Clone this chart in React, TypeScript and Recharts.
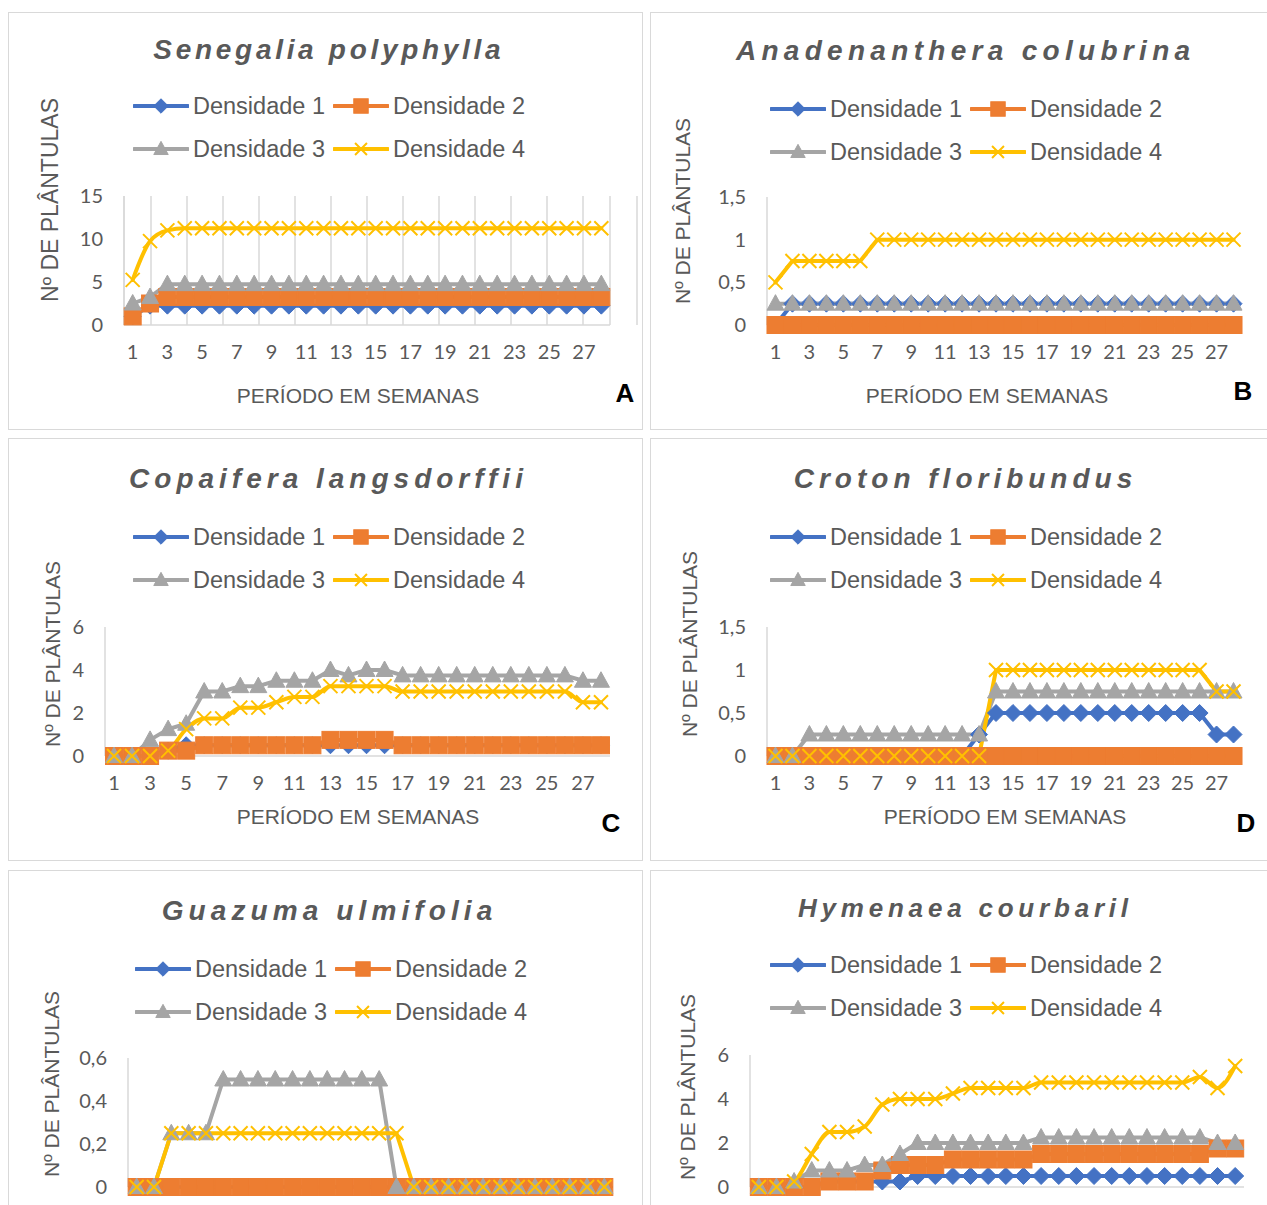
import React from "react";
import { LineChart, Line, XAxis, YAxis, CartesianGrid } from "recharts";

// weeks (categories) and tick labels
const weeks = [1, 2, 3, 4, 5, 6, 7, 8, 9, 10, 11, 12, 13, 14, 15, 16, 17, 18, 19, 20, 21, 22, 23, 24, 25, 26, 27, 28];
const weekTicks = [1, 3, 5, 7, 9, 11, 13, 15, 17, 19, 21, 23, 25, 27];
const weekBounds = [0.5, 1.5, 2.5, 3.5, 4.5, 5.5, 6.5, 7.5, 8.5, 9.5, 10.5, 11.5, 12.5, 13.5, 14.5, 15.5, 16.5, 17.5, 18.5, 19.5, 20.5, 21.5, 22.5, 23.5, 24.5, 25.5, 26.5, 27.5, 28.5];

const ticks15 = [0, 5, 10, 15];
const ticks1_5 = [0, 0.5, 1, 1.5];
const ticks6 = [0, 2, 4, 6];
const ticks0_6 = [0, 0.2, 0.4, 0.6];

const seriesNames = ["Densidade 1", "Densidade 2", "Densidade 3", "Densidade 4"];
const colors = ["#4472C4", "#ED7D31", "#A5A5A5", "#FFC000"];

// A - Senegalia polyphylla
const senegaliaD1 = [1, 2.25, 2.25, 2.25, 2.25, 2.25, 2.25,
  2.25, 2.25, 2.25, 2.25, 2.25, 2.25, 2.25,
  2.25, 2.25, 2.25, 2.25, 2.25, 2.25, 2.25,
  2.25, 2.25, 2.25, 2.25, 2.25, 2.25, 2.25];
const senegaliaD2 = [1, 2.5, 3.25, 3.25, 3.25, 3.25, 3.25,
  3.25, 3.25, 3.25, 3.25, 3.25, 3.25, 3.25,
  3.25, 3.25, 3.25, 3.25, 3.25, 3.25, 3.25,
  3.25, 3.25, 3.25, 3.25, 3.25, 3.25, 3.25];
const senegaliaD3 = [2.5, 3.25, 4.75, 4.75, 4.75, 4.75, 4.75,
  4.75, 4.75, 4.75, 4.75, 4.75, 4.75, 4.75,
  4.75, 4.75, 4.75, 4.75, 4.75, 4.75, 4.75,
  4.75, 4.75, 4.75, 4.75, 4.75, 4.75, 4.75];
const senegaliaD4 = [5.25, 9.75, 11, 11.25, 11.25, 11.25, 11.25,
  11.25, 11.25, 11.25, 11.25, 11.25, 11.25, 11.25,
  11.25, 11.25, 11.25, 11.25, 11.25, 11.25, 11.25,
  11.25, 11.25, 11.25, 11.25, 11.25, 11.25, 11.25];

// B - Anadenanthera colubrina
const anadenantheraD1 = [0, 0.25, 0.25, 0.25, 0.25, 0.25, 0.25,
  0.25, 0.25, 0.25, 0.25, 0.25, 0.25, 0.25,
  0.25, 0.25, 0.25, 0.25, 0.25, 0.25, 0.25,
  0.25, 0.25, 0.25, 0.25, 0.25, 0.25, 0.25];
const anadenantheraD2 = [0, 0, 0, 0, 0, 0, 0,
  0, 0, 0, 0, 0, 0, 0,
  0, 0, 0, 0, 0, 0, 0,
  0, 0, 0, 0, 0, 0, 0];
const anadenantheraD3 = [0.25, 0.25, 0.25, 0.25, 0.25, 0.25, 0.25,
  0.25, 0.25, 0.25, 0.25, 0.25, 0.25, 0.25,
  0.25, 0.25, 0.25, 0.25, 0.25, 0.25, 0.25,
  0.25, 0.25, 0.25, 0.25, 0.25, 0.25, 0.25];
const anadenantheraD4 = [0.5, 0.75, 0.75, 0.75, 0.75, 0.75, 1,
  1, 1, 1, 1, 1, 1, 1,
  1, 1, 1, 1, 1, 1, 1,
  1, 1, 1, 1, 1, 1, 1];

// C - Copaifera langsdorffii
const copaiferaD1 = [0, 0, 0, 0.25, 0.5, 0.5, 0.5,
  0.5, 0.5, 0.5, 0.5, 0.5, 0.5, 0.5,
  0.5, 0.5, 0.5, 0.5, 0.5, 0.5, 0.5,
  0.5, 0.5, 0.5, 0.5, 0.5, 0.5, 0.5];
const copaiferaD2 = [0, 0, 0, 0.25, 0.25, 0.5, 0.5,
  0.5, 0.5, 0.5, 0.5, 0.5, 0.75, 0.75,
  0.75, 0.75, 0.5, 0.5, 0.5, 0.5, 0.5,
  0.5, 0.5, 0.5, 0.5, 0.5, 0.5, 0.5];
const copaiferaD3 = [0, 0, 0.75, 1.25, 1.5, 3, 3,
  3.25, 3.25, 3.5, 3.5, 3.5, 4, 3.75,
  4, 4, 3.75, 3.75, 3.75, 3.75, 3.75,
  3.75, 3.75, 3.75, 3.75, 3.75, 3.5, 3.5];
const copaiferaD4 = [0, 0, 0, 0.25, 1.25, 1.75, 1.75,
  2.25, 2.25, 2.5, 2.75, 2.75, 3.25, 3.25,
  3.25, 3.25, 3, 3, 3, 3, 3,
  3, 3, 3, 3, 3, 2.5, 2.5];

// D - Croton floribundus
const crotonD1 = [0, 0, 0, 0, 0, 0, 0,
  0, 0, 0, 0, 0, 0.25, 0.5,
  0.5, 0.5, 0.5, 0.5, 0.5, 0.5, 0.5,
  0.5, 0.5, 0.5, 0.5, 0.5, 0.25, 0.25];
const crotonD2 = [0, 0, 0, 0, 0, 0, 0,
  0, 0, 0, 0, 0, 0, 0,
  0, 0, 0, 0, 0, 0, 0,
  0, 0, 0, 0, 0, 0, 0];
const crotonD3 = [0, 0, 0.25, 0.25, 0.25, 0.25, 0.25,
  0.25, 0.25, 0.25, 0.25, 0.25, 0.25, 0.75,
  0.75, 0.75, 0.75, 0.75, 0.75, 0.75, 0.75,
  0.75, 0.75, 0.75, 0.75, 0.75, 0.75, 0.75];
const crotonD4 = [0, 0, 0, 0, 0, 0, 0,
  0, 0, 0, 0, 0, 0, 1,
  1, 1, 1, 1, 1, 1, 1,
  1, 1, 1, 1, 1, 0.75, 0.75];

// E - Guazuma ulmifolia
const guazumaD1 = [0, 0, 0, 0, 0, 0, 0,
  0, 0, 0, 0, 0, 0, 0,
  0, 0, 0, 0, 0, 0, 0,
  0, 0, 0, 0, 0, 0, 0];
const guazumaD2 = [0, 0, 0, 0, 0, 0, 0,
  0, 0, 0, 0, 0, 0, 0,
  0, 0, 0, 0, 0, 0, 0,
  0, 0, 0, 0, 0, 0, 0];
const guazumaD3 = [0, 0, 0.25, 0.25, 0.25, 0.5, 0.5,
  0.5, 0.5, 0.5, 0.5, 0.5, 0.5, 0.5,
  0.5, 0, 0, 0, 0, 0, 0,
  0, 0, 0, 0, 0, 0, 0];
const guazumaD4 = [0, 0, 0.25, 0.25, 0.25, 0.25, 0.25,
  0.25, 0.25, 0.25, 0.25, 0.25, 0.25, 0.25,
  0.25, 0.25, 0, 0, 0, 0, 0,
  0, 0, 0, 0, 0, 0, 0];

// F - Hymenaea courbaril
const hymenaeaD1 = [0, 0, 0, 0, 0.25, 0.25, 0.25,
  0.25, 0.25, 0.5, 0.5, 0.5, 0.5, 0.5,
  0.5, 0.5, 0.5, 0.5, 0.5, 0.5, 0.5,
  0.5, 0.5, 0.5, 0.5, 0.5, 0.5, 0.5];
const hymenaeaD2 = [0, 0, 0, 0, 0.25, 0.25, 0.25,
  0.75, 1, 1, 1, 1.25, 1.25, 1.25,
  1.25, 1.25, 1.5, 1.5, 1.5, 1.5, 1.5,
  1.5, 1.5, 1.5, 1.5, 1.5, 1.75, 1.75];
const hymenaeaD3 = [0, 0, 0.25, 0.75, 0.75, 0.75, 1,
  1, 1.5, 2, 2, 2, 2, 2,
  2, 2, 2.25, 2.25, 2.25, 2.25, 2.25,
  2.25, 2.25, 2.25, 2.25, 2.25, 2, 2];
const hymenaeaD4 = [0, 0, 0.25, 1.5, 2.5, 2.5, 2.75,
  3.75, 4, 4, 4, 4.25, 4.5, 4.5,
  4.5, 4.5, 4.75, 4.75, 4.75, 4.75, 4.75,
  4.75, 4.75, 4.75, 4.75, 5, 4.5, 5.5];

const TEXT = "#595959";
const SANS = "'Liberation Sans', Arial, sans-serif";
const TICK_FONT = "Lato, 'Open Sans', sans-serif";

// bottom row (E, F) is cut by the page edge: its x ticks, axis title and letter fall outside
const panels = [
  {
    id: "A", title: "Senegalia polyphylla", series: [senegaliaD1, senegaliaD2, senegaliaD3, senegaliaD4],
    yMax: 15, yTicks: ticks15, grid: true, smooth: true, showBottom: true,
    left: 8, top: 12, width: 635, height: 418, plot: { l: 116, r: 602, t: 184, b: 313 },
    titleAt: [319, 38], titleSize: 28, titleSpacing: 3.7, legendAt: [125, 94],
    yLabelAt: [42, 188], yLabelSize: 23, xLabelAt: [350, 384], letterAt: [617, 381],
  },
  {
    id: "B", title: "Anadenanthera colubrina", series: [anadenantheraD1, anadenantheraD2, anadenantheraD3, anadenantheraD4],
    yMax: 1.5, yTicks: ticks1_5, grid: false, smooth: false, showBottom: true,
    left: 650, top: 12, width: 630, height: 418, plot: { l: 117, r: 592, t: 185, b: 313 },
    titleAt: [313, 39], titleSize: 28, titleSpacing: 5.3, legendAt: [120, 97],
    yLabelAt: [33, 199], yLabelSize: 21, xLabelAt: [337, 384], letterAt: [593, 379],
  },
  {
    id: "C", title: "Copaifera langsdorffii", series: [copaiferaD1, copaiferaD2, copaiferaD3, copaiferaD4],
    yMax: 6, yTicks: ticks6, grid: false, smooth: true, showBottom: true,
    left: 8, top: 438, width: 635, height: 423, plot: { l: 97, r: 602, t: 189, b: 318 },
    titleAt: [318, 41], titleSize: 28, titleSpacing: 5.0, legendAt: [125, 99],
    yLabelAt: [45, 216], yLabelSize: 21, xLabelAt: [350, 379], letterAt: [603, 385],
  },
  {
    id: "D", title: "Croton floribundus", series: [crotonD1, crotonD2, crotonD3, crotonD4],
    yMax: 1.5, yTicks: ticks1_5, grid: false, smooth: false, showBottom: true,
    left: 650, top: 438, width: 630, height: 423, plot: { l: 117, r: 592, t: 189, b: 318 },
    titleAt: [313, 41], titleSize: 28, titleSpacing: 5.0, legendAt: [120, 99],
    yLabelAt: [40, 206], yLabelSize: 21, xLabelAt: [355, 379], letterAt: [596, 385],
  },
  {
    id: "E", title: "Guazuma ulmifolia", series: [guazumaD1, guazumaD2, guazumaD3, guazumaD4],
    yMax: 0.6, yTicks: ticks0_6, grid: false, smooth: false, showBottom: false,
    left: 8, top: 870, width: 635, height: 423, plot: { l: 120, r: 605, t: 188, b: 317 },
    titleAt: [319, 41], titleSize: 28, titleSpacing: 5.1, legendAt: [127, 99],
    yLabelAt: [44, 214], yLabelSize: 21, xLabelAt: [350, 379], letterAt: [603, 385],
  },
  {
    id: "F", title: "Hymenaea courbaril", series: [hymenaeaD1, hymenaeaD2, hymenaeaD3, hymenaeaD4],
    yMax: 6, yTicks: ticks6, grid: false, smooth: true, showBottom: false,
    left: 650, top: 870, width: 630, height: 423, plot: { l: 100, r: 594, t: 185, b: 317 },
    titleAt: [313, 38], titleSize: 26, titleSpacing: 4.8, legendAt: [120, 95],
    yLabelAt: [38, 217], yLabelSize: 21, xLabelAt: [355, 379], letterAt: [596, 385],
  },
];

const keys = ["d1", "d2", "d3", "d4"];

function Marker({ kind, cx, cy, s = 1 }: { kind: number; cx: number; cy: number; s?: number }) {
  const c = colors[kind];
  if (kind === 0) {
    const h = 8.5 * s;
    return <path d={`M${cx} ${cy - h}L${cx + h} ${cy}L${cx} ${cy + h}L${cx - h} ${cy}Z`} fill={c} stroke={c} strokeWidth={1} />;
  }
  if (kind === 1) {
    const h = 8.5 * s;
    return <rect x={cx - h} y={cy - h} width={2 * h} height={2 * h} fill={c} stroke={c} strokeWidth={1} />;
  }
  if (kind === 2) {
    const w = 8.5 * s;
    return <path d={`M${cx} ${cy - 9 * s}L${cx + w} ${cy + 6.5 * s}L${cx - w} ${cy + 6.5 * s}Z`} fill={c} stroke={c} strokeWidth={1} />;
  }
  const h = 7 * s;
  return (
    <path d={`M${cx - h} ${cy - h}L${cx + h} ${cy + h}M${cx + h} ${cy - h}L${cx - h} ${cy + h}`} stroke={c} strokeWidth={2} fill="none" />
  );
}

function renderDot(kind: number) {
  return (props: any) => {
    const { cx, cy, index } = props;
    if (cx == null || cy == null) return <g key={`dot-${kind}-${index}`} />;
    return (
      <g key={`dot-${kind}-${index}`}>
        <Marker kind={kind} cx={cx} cy={cy} />
      </g>
    );
  };
}

function LegendItem({ kind, x, y }: { kind: number; x: number; y: number }) {
  return (
    <div style={{ position: "absolute", left: x, top: y - 14, height: 28, display: "flex", alignItems: "center", whiteSpace: "nowrap" }}>
      <svg width={56} height={28} style={{ display: "block" }}>
        <line x1={1} y1={14} x2={55} y2={14} stroke={colors[kind]} strokeWidth={4} strokeLinecap="round" />
        <Marker kind={kind} cx={28} cy={14} s={0.85} />
      </svg>
      <span style={{ marginLeft: 4, fontFamily: SANS, fontSize: 23.5, color: TEXT, lineHeight: "28px" }}>{seriesNames[kind]}</span>
    </div>
  );
}

const fmt = (v: number) => String(v).replace(".", ",");

function Panel({ p }: { p: (typeof panels)[number] }) {
  const data = weeks.map((w, i) => ({
    week: w,
    d1: p.series[0][i],
    d2: p.series[1][i],
    d3: p.series[2][i],
    d4: p.series[3][i],
  }));
  const yw = 60;
  const xh = 50;
  const margin = {
    top: p.plot.t,
    left: p.plot.l - yw,
    right: p.width - p.plot.r,
    bottom: p.height - p.plot.b - xh,
  };

  return (
    <div
      style={{
        position: "absolute",
        left: p.left,
        top: p.top,
        width: p.width,
        height: p.height,
        background: "#fff",
        boxShadow: "inset 0 0 0 1px #d9d9d9",
      }}
    >
      <div style={{ position: "absolute", left: 0, top: 0 }}>
        <LineChart width={p.width} height={p.height} data={data} margin={margin}>
          {p.grid && (
            <XAxis xAxisId="g" type="number" domain={[0.5, 28.5]} ticks={weekBounds} hide />
          )}
          {p.grid && <CartesianGrid xAxisId="g" horizontal={false} stroke="#d9d9d9" strokeWidth={1.5} />}
          <XAxis
            dataKey="week"
            type="number"
            domain={[0.5, 28.5]}
            ticks={weekTicks}
            interval={0}
            height={xh}
            tickLine={false}
            tickSize={0}
            tickMargin={20}
            axisLine={{ stroke: "#d9d9d9", strokeWidth: 1.5 }}
            tick={p.showBottom ? { fill: TEXT, fontSize: 20, fontFamily: TICK_FONT } : false}
          />
          <YAxis
            type="number"
            domain={[0, p.yMax]}
            ticks={p.yTicks}
            interval={0}
            width={yw}
            tickLine={false}
            tickSize={0}
            tickMargin={21}
            tickFormatter={fmt}
            axisLine={{ stroke: "#d9d9d9", strokeWidth: 1.5 }}
            tick={{ fill: TEXT, fontSize: 20, fontFamily: TICK_FONT }}
          />
          {keys.map((k, i) => (
            <Line
              key={k}
              dataKey={k}
              type={p.smooth && i === 3 ? "monotone" : "linear"}
              stroke={colors[i]}
              strokeWidth={4}
              strokeLinejoin="round"
              strokeLinecap="round"
              dot={renderDot(i)}
              activeDot={false}
              isAnimationActive={false}
            />
          ))}
        </LineChart>
      </div>

      <div
        style={{
          position: "absolute",
          left: p.titleAt[0],
          top: p.titleAt[1],
          transform: "translate(-50%, -50%)",
          whiteSpace: "nowrap",
          fontFamily: SANS,
          fontWeight: "bold",
          fontStyle: "italic",
          fontSize: p.titleSize,
          letterSpacing: p.titleSpacing,
          paddingLeft: p.titleSpacing,
          color: TEXT,
        }}
      >
        {p.title}
      </div>

      <LegendItem kind={0} x={p.legendAt[0]} y={p.legendAt[1]} />
      <LegendItem kind={1} x={p.legendAt[0] + 200} y={p.legendAt[1]} />
      <LegendItem kind={2} x={p.legendAt[0]} y={p.legendAt[1] + 43} />
      <LegendItem kind={3} x={p.legendAt[0] + 200} y={p.legendAt[1] + 43} />

      <div
        style={{
          position: "absolute",
          left: p.yLabelAt[0],
          top: p.yLabelAt[1],
          transform: "translate(-50%, -50%) rotate(-90deg)",
          whiteSpace: "nowrap",
          fontFamily: SANS,
          fontSize: p.yLabelSize,
          color: TEXT,
        }}
      >
        Nº DE PLÂNTULAS
      </div>

      {p.showBottom && (
        <div
          style={{
            position: "absolute",
            left: p.xLabelAt[0],
            top: p.xLabelAt[1],
            transform: "translate(-50%, -50%)",
            whiteSpace: "nowrap",
            fontFamily: SANS,
            fontSize: 21,
            color: TEXT,
          }}
        >
          PERÍODO EM SEMANAS
        </div>
      )}

      {p.showBottom && (
        <div
          style={{
            position: "absolute",
            left: p.letterAt[0],
            top: p.letterAt[1],
            transform: "translate(-50%, -50%)",
            fontFamily: SANS,
            fontWeight: "bold",
            fontSize: 26,
            color: "#000",
          }}
        >
          {p.id}
        </div>
      )}
    </div>
  );
}

export default function App() {
  return (
    <div
      style={{
        position: "absolute",
        left: 0,
        top: 0,
        width: 1267,
        height: 1205,
        overflow: "hidden",
        background: "#fff",
      }}
    >
      {panels.map((p) => (
        <Panel key={p.id} p={p} />
      ))}
    </div>
  );
}
